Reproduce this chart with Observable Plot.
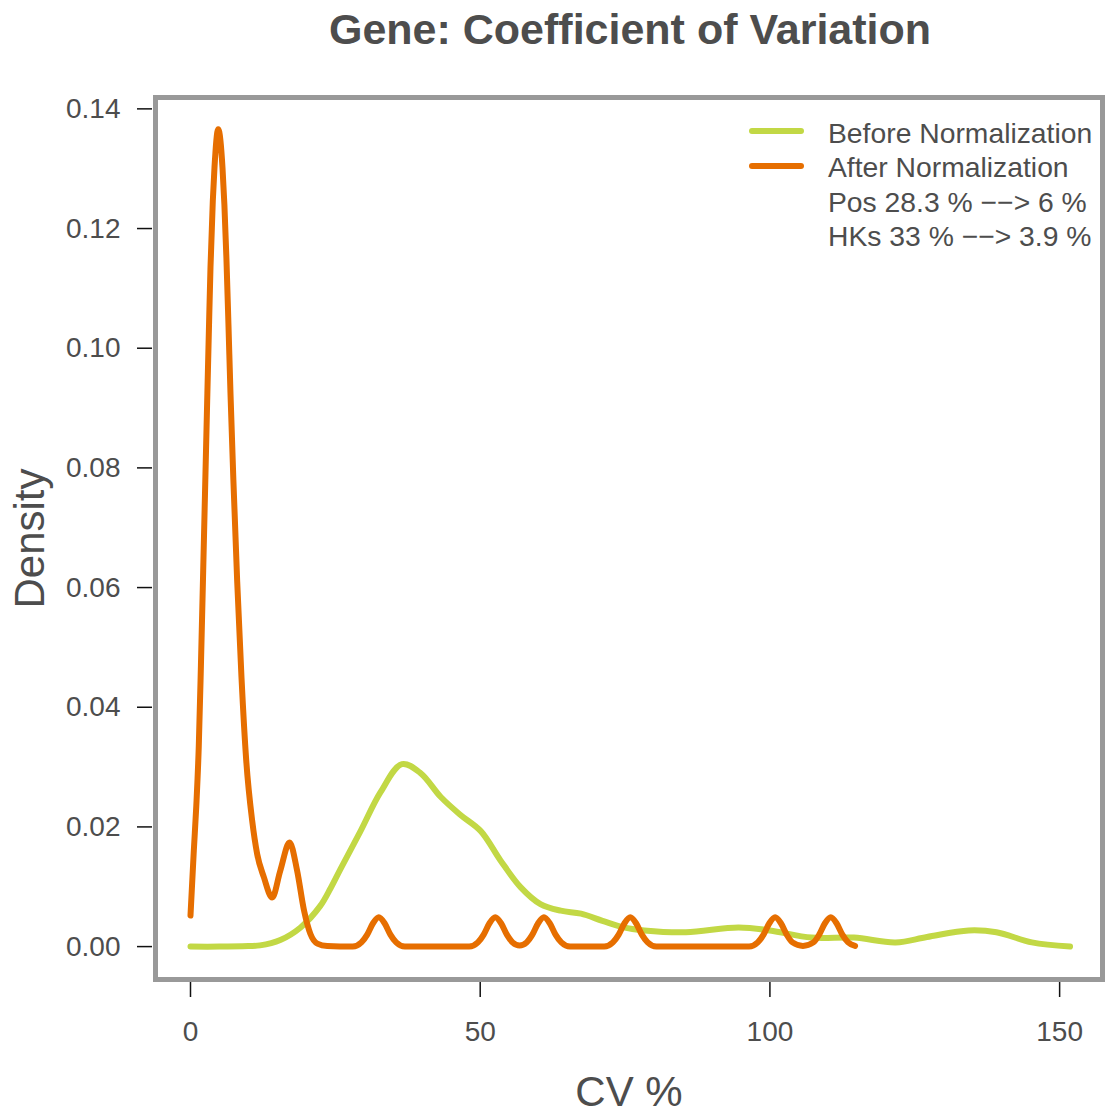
<!DOCTYPE html>
<html>
<head>
<meta charset="utf-8">
<script src="https://cdn.jsdelivr.net/npm/d3@7"></script>
<script src="https://cdn.jsdelivr.net/npm/@observablehq/plot@0.6"></script>
<style>
  html, body { margin: 0; padding: 0; background: #fff; }
  #wrap { position: relative; width: 1107px; height: 1116px; font-family: "Liberation Sans", Arial, sans-serif; }
  #legend { position: absolute; left: 746px; top: 116px; color: #4d4d4d; font-size: 28.3px; }
  .row { position: relative; height: 34.4px; line-height: 34.4px; padding-left: 82px; white-space: nowrap; }
  .sw { position: absolute; left: 3px; top: 12.4px; width: 55px; height: 6px; border-radius: 3px; }
</style>
</head>
<body>
<div id="wrap"></div>
<script>
// ---- data ----
const titleText = "Gene: Coefficient of Variation";
const xLabel = "CV %";
const yLabel = "Density";
const xTicks = [0, 50, 100, 150];
const yTicks = [0, 0.02, 0.04, 0.06, 0.08, 0.10, 0.12, 0.14];

const seriesNames = ["Before Normalization", "After Normalization"];
const seriesColors = ["#c2d845", "#e66e00"];
const noteLines = ["Pos 28.3 % \u2212\u2212> 6 %", "HKs 33 % \u2212\u2212> 3.9 %"];

// Before normalization density (CV %, density)
const beforeCV = [0, 5, 10, 12, 15.5, 19, 22.4, 24.2, 25.9, 29.3, 32.8, 36.5, 39.7, 43.2, 46.6, 50.1, 53.5, 57, 60.4, 63.9, 67.4, 71.1, 74.7, 78.3, 85.5, 94.6, 100, 107.2, 114.5, 121.7, 127.1, 134.3, 139.1, 145.2, 151.8];
const beforeDensity = [0, 0, 0.0001, 0.0002, 0.0011, 0.0032, 0.0068, 0.0098, 0.0130, 0.0192, 0.0258, 0.0305, 0.0290, 0.0250, 0.0220, 0.0193, 0.0144, 0.0099, 0.0071, 0.0060, 0.0055, 0.0043, 0.0032, 0.0027, 0.0024, 0.0032, 0.0027, 0.0015, 0.0015, 0.0007, 0.0016, 0.0027, 0.0024, 0.0007, 0];

// After normalization density (CV %, density)
const afterCV = [0, 0.57, 1.0, 1.43, 1.8, 2.19, 2.88, 3.16, 3.45, 3.85, 4.14, 4.78, 5.52, 5.85, 6.2, 6.55, 6.9, 7.4, 8.06, 8.8, 9.62, 10.65, 11.5, 12.66, 14.1, 15.5, 17.1, 18.4, 19.6, 20.7, 21.9, 23.6,
  28.0, 29.5, 30.5, 31.5, 32.5, 33.5, 34.5, 35.5, 37.0,
  48.1, 49.6, 50.6, 51.6, 52.6, 53.6, 54.6, 55.6, 56.8, 58.0, 59.0, 60.0, 61.0, 62.0, 63.0, 64.0, 65.5,
  71.4, 72.9, 73.9, 74.9, 75.9, 76.9, 77.9, 78.9, 80.4,
  96.4, 97.9, 98.9, 99.9, 100.9, 101.9, 102.9, 103.9, 105.7, 107.5, 108.5, 109.5, 110.5, 111.5, 112.5, 113.5, 114.7];
const afterDensity = [0.0052, 0.016, 0.0235, 0.0335, 0.047, 0.0628, 0.0912, 0.1024, 0.1135, 0.1246, 0.1302, 0.1366, 0.1302, 0.1240, 0.1150, 0.1040, 0.0925, 0.0780, 0.0610, 0.0450, 0.0311, 0.021, 0.0155, 0.0116, 0.0082, 0.0127, 0.0174, 0.0127, 0.006, 0.0021, 0.0005, 0.0001,
  0, 0.0007, 0.002, 0.0039, 0.0049, 0.0039, 0.002, 0.0007, 0,
  0, 0.0007, 0.002, 0.0039, 0.0049, 0.0039, 0.002, 0.0007, 0.0002, 0.0007, 0.002, 0.0039, 0.0049, 0.0039, 0.002, 0.0007, 0,
  0, 0.0007, 0.002, 0.0039, 0.0049, 0.0039, 0.002, 0.0007, 0,
  0, 0.0007, 0.002, 0.0039, 0.0049, 0.0039, 0.002, 0.0007, 0.0001, 0.0007, 0.002, 0.0039, 0.0049, 0.0039, 0.002, 0.0007, 0.0001];

// ---- build tables ----
const before = beforeCV.map((x, i) => ({x, y: beforeDensity[i]}));
const after = afterCV.map((x, i) => ({x, y: afterDensity[i]}));

const textColor = "#4d4d4d";
const font = "Liberation Sans, Arial, sans-serif";

const chart = Plot.plot({
  width: 1107,
  height: 1116,
  marginLeft: 155,
  marginRight: 5,
  marginTop: 97,
  marginBottom: 137,
  x: {domain: [-6.04, 157.4]},
  y: {domain: [-0.0055, 0.1419]},
  style: {fontFamily: font, background: "white", color: textColor, overflow: "visible"},
  marks: [
    Plot.line(before, {x: "x", y: "y", stroke: seriesColors[0], strokeWidth: 6, curve: "catmull-rom", strokeLinecap: "round", strokeLinejoin: "round"}),
    Plot.line(after, {x: "x", y: "y", stroke: seriesColors[1], strokeWidth: 6, curve: "monotone-x", strokeLinecap: "round", strokeLinejoin: "round"}),
    Plot.frame({stroke: "#999999", strokeWidth: 5}),
    Plot.axisY({ticks: yTicks, tickFormat: d3.format(".2f"), tickSize: 15, tickPadding: 17, dx: -3, fontSize: 28, stroke: "#111", strokeWidth: 1.5, fill: textColor, label: null}),
    Plot.axisX({ticks: xTicks, tickFormat: d3.format("d"), tickSize: 15, tickPadding: 24, dy: 3, fontSize: 28, stroke: "#111", strokeWidth: 1.5, fill: textColor, label: null}),
    Plot.text([yLabel], {text: d => d, frameAnchor: "left", rotate: -90, dx: -125, fontSize: 42, fill: textColor, lineAnchor: "middle", textAnchor: "middle"}),
    Plot.text([xLabel], {text: d => d, frameAnchor: "bottom", dy: 113, fontSize: 42, fill: textColor, lineAnchor: "middle", textAnchor: "middle"}),
    Plot.text([titleText], {text: d => d, frameAnchor: "top", dy: -67, dx: 1, fontSize: 43, fontWeight: "bold", fill: textColor, lineAnchor: "middle", textAnchor: "middle"})
  ]
});

const wrap = document.getElementById("wrap");
wrap.appendChild(chart);

// legend (R-style, top right inside the box)
const legend = d3.select(wrap).append("div").attr("id", "legend");
seriesNames.forEach((name, i) => {
  const row = legend.append("div").attr("class", "row");
  row.append("span").attr("class", "sw").style("background", seriesColors[i]);
  row.append("span").text(name);
});
noteLines.forEach(t => {
  legend.append("div").attr("class", "row").text(t);
});
</script>
</body>
</html>
